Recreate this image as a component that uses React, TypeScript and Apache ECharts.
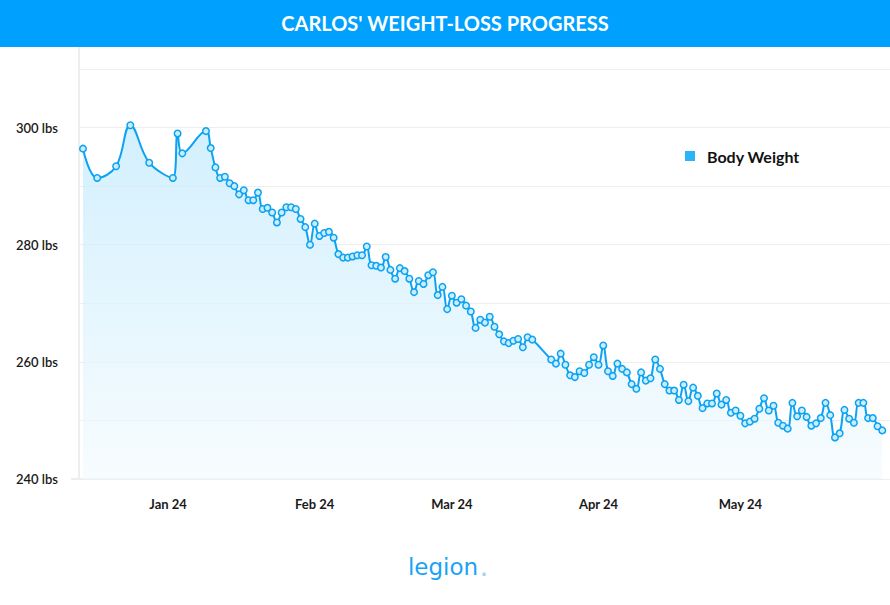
import React, { useEffect, useRef } from 'react';
import * as echarts from 'echarts';

// First weigh-in date (local time)
const START_YEAR = 2023;
const START_MONTH = 11; // December (0-based)
const START_DAY = 14;

// Days since the first weigh-in
const dayOffsets = [
  0, 3, 7, 10, 14, 19, 20, 21, 26, 27, 28, 29, 30, 31, 32, 33, 34, 35, 36, 37,
  38, 39, 40, 41, 42, 43, 44, 45, 46, 47, 48, 49, 50, 51, 52, 53, 54, 55, 56, 57,
  58, 59, 60, 61, 62, 63, 64, 65, 66, 67, 68, 69, 70, 71, 72, 73, 74, 75, 76, 77,
  78, 79, 80, 81, 82, 83, 84, 85, 86, 87, 88, 89, 90, 91, 92, 93, 94, 95, 99, 100,
  101, 102, 103, 104, 105, 106, 107, 108, 109, 110, 111, 112, 113, 114, 115, 116, 117, 118, 119, 120,
  121, 122, 123, 124, 125, 126, 127, 128, 129, 130, 131, 132, 133, 134, 135, 136, 137, 138, 139, 140,
  141, 142, 143, 144, 145, 146, 147, 148, 149, 150, 151, 152, 153, 154, 155, 156, 157, 158, 159, 160,
  161, 162, 163, 164, 165, 166, 167, 168, 169,
];

// Body weight in lbs
const weights = [
  296.4, 291.4, 293.4, 300.4, 294.0, 291.4, 299.0, 295.6, 299.4, 296.5, 293.2, 291.4, 291.6, 290.5, 290.0, 288.6, 289.3, 287.6, 287.6, 288.9,
  286.1, 286.3, 285.5, 283.8, 285.5, 286.4, 286.4, 286.1, 284.4, 283.0, 280.0, 283.6, 281.5, 282.0, 282.2, 281.2, 278.4, 277.8, 277.8, 278.0,
  278.2, 278.2, 279.7, 276.5, 276.4, 276.1, 277.9, 275.7, 274.2, 276.0, 275.5, 274.2, 271.9, 273.8, 273.3, 274.8, 275.3, 271.4, 272.8, 269.0,
  271.3, 270.1, 270.7, 269.6, 268.6, 265.8, 267.2, 266.7, 267.7, 266.0, 264.7, 263.5, 263.2, 263.6, 263.9, 262.5, 264.2, 263.8, 260.4, 259.7,
  261.4, 259.5, 257.7, 257.4, 258.4, 258.1, 259.5, 260.8, 259.5, 262.8, 258.4, 257.6, 259.7, 258.8, 258.2, 256.2, 255.4, 258.2, 256.8, 257.2,
  260.4, 258.8, 256.2, 255.1, 255.1, 253.5, 256.1, 253.3, 255.6, 254.2, 252.1, 252.9, 252.9, 254.6, 252.7, 253.5, 251.3, 251.7, 250.8, 249.5,
  249.8, 250.3, 252.0, 253.8, 251.7, 252.5, 249.6, 249.1, 248.6, 253.0, 250.7, 251.7, 250.6, 249.1, 249.5, 250.4, 253.0, 250.9, 247.1, 247.8,
  251.8, 250.3, 249.6, 253.0, 253.0, 250.4, 250.4, 249.0, 248.3,
];

const yLabelTicks = [240, 260, 280, 300];
const monthNames = ['Jan', 'Feb', 'Mar', 'Apr', 'May', 'Jun', 'Jul', 'Aug', 'Sep', 'Oct', 'Nov', 'Dec'];
const TITLE = "CARLOS' WEIGHT-LOSS PROGRESS";
const SERIES_NAME = 'Body Weight';

export default function App() {
  const ref = useRef<HTMLDivElement>(null);

  useEffect(() => {
    if (!ref.current) return;
    const chart = echarts.init(ref.current, null, { renderer: 'svg' });
    const DAY = 86400000;
    const t0 = new Date(START_YEAR, START_MONTH, START_DAY).getTime();
    const data = dayOffsets.map((d, i) => [
      new Date(START_YEAR, START_MONTH, START_DAY + d).getTime(),
      weights[i],
    ]);
    const lastT = data[data.length - 1][0] as number;
    const lineColor = '#0ca2f2';

    chart.setOption({
      animation: false,
      backgroundColor: '#ffffff',
      grid: { left: 79, right: 0, top: 69, bottom: 126, containLabel: false },
      legend: {
        data: [{ name: SERIES_NAME, icon: 'rect' }],
        left: 680,
        top: 143,
        itemWidth: 10,
        itemHeight: 10,
        itemStyle: { color: '#2bb5f7', borderWidth: 0 },
        textStyle: {
          color: '#111111',
          fontSize: 16,
          fontWeight: 'bold',
          fontFamily: 'Lato',
          padding: [0, 0, 0, 7],
        },
      },
      xAxis: {
        type: 'time',
        min: t0 - 0.846 * DAY,
        max: t0 + 170.6 * DAY,
        axisLine: { show: false },
        axisTick: { show: false },
        splitLine: { show: false },
        axisLabel: {
          color: '#1a1a1a',
          fontSize: 13,
          fontWeight: 'bold',
          fontFamily: 'Lato',
          margin: 18,
          formatter: (val: number) => {
            if (val > lastT) return '';
            const d = new Date(val);
            if (d.getDate() !== 1) return '';
            return `${monthNames[d.getMonth()]} ${String(d.getFullYear()).slice(2)}`;
          },
        },
      },
      yAxis: {
        type: 'value',
        min: 240,
        max: 310,
        interval: 10,
        axisLine: { show: false },
        axisTick: { show: false },
        splitLine: { lineStyle: { color: '#eeeeee', width: 1 } },
        axisLabel: {
          color: '#1a1a1a',
          fontSize: 13,
          fontWeight: 600,
          fontFamily: 'Lato',
          margin: 21,
          formatter: (v: number) => (yLabelTicks.includes(v) ? `${v} lbs` : ''),
        },
      },
      series: [
        {
          name: SERIES_NAME,
          type: 'line',
          data,
          smooth: 0.4,
          symbol: 'circle',
          symbolSize: 6.5,
          showAllSymbol: true,
          lineStyle: { color: lineColor, width: 2 },
          itemStyle: { color: '#c9edfd', borderColor: lineColor, borderWidth: 1.5 },
          areaStyle: {
            color: new echarts.graphic.LinearGradient(0, 0, 0, 1, [
              { offset: 0, color: '#bfe9fd' },
              { offset: 1, color: '#f4fbfe' },
            ]),
          },
          z: 3,
        },
      ],
      graphic: [
        {
          type: 'line',
          shape: { x1: 71, y1: 479, x2: 881, y2: 479 },
          style: { stroke: '#eeeeee', lineWidth: 2 },
          z: 1,
        },
        {
          type: 'line',
          shape: { x1: 79, y1: 47, x2: 79, y2: 479 },
          style: { stroke: '#eeeeee', lineWidth: 2 },
          z: 1,
        },
        {
          type: 'rect',
          shape: { x: 0, y: 0, width: 890, height: 47 },
          style: { fill: '#00a0fe' },
          z: 100,
        },
        {
          type: 'text',
          x: 445,
          y: 23,
          style: {
            text: TITLE,
            fill: '#ffffff',
            font: 'bold 20px Lato',
            textAlign: 'center',
            textVerticalAlign: 'middle',
          },
          z: 101,
        },
        {
          type: 'text',
          x: 443,
          y: 567,
          style: {
            text: 'legion',
            fill: '#1aa3f5',
            font: '23px "DejaVu Sans"',
            textAlign: 'center',
            textVerticalAlign: 'middle',
          },
          z: 10,
        },
        {
          type: 'text',
          x: 484,
          y: 574,
          style: {
            text: '®',
            fill: '#1aa3f5',
            font: '5px "DejaVu Sans"',
            textAlign: 'center',
            textVerticalAlign: 'middle',
          },
          z: 10,
        },
      ],
    });

    return () => chart.dispose();
  }, []);

  return (
    <div
      ref={ref}
      style={{ position: 'fixed', left: 0, top: 0, width: 890, height: 605, background: '#ffffff' }}
    />
  );
}
